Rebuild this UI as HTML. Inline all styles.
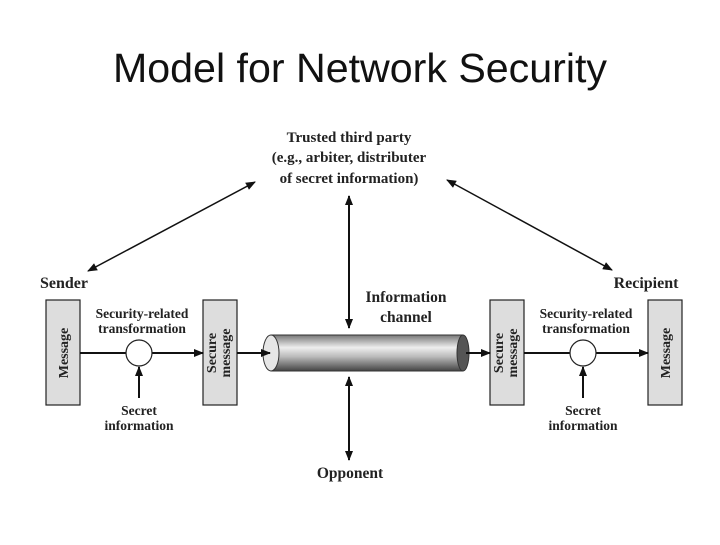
<!DOCTYPE html>
<html><head><style>
body{margin:0;width:720px;height:540px;background:#fff;overflow:hidden}
</style></head><body>
<svg width="720" height="540" xmlns="http://www.w3.org/2000/svg">
<defs>
<linearGradient id="cy" x1="0" y1="0" x2="0" y2="1">
<stop offset="0" stop-color="#777"/><stop offset="0.35" stop-color="#eee"/><stop offset="0.6" stop-color="#bbb"/><stop offset="1" stop-color="#444"/>
</linearGradient>
<marker id="a" markerWidth="10" markerHeight="8" refX="9" refY="4" orient="auto" markerUnits="userSpaceOnUse"><path d="M0,0 L10,4 L0,8 z" fill="#111"/></marker>
<marker id="b" markerWidth="10" markerHeight="8" refX="1" refY="4" orient="auto" markerUnits="userSpaceOnUse"><path d="M10,0 L0,4 L10,8 z" fill="#111"/></marker>
</defs>
<text x="360" y="82" text-anchor="middle" font-family="Liberation Sans, sans-serif" font-size="41" textLength="494" lengthAdjust="spacingAndGlyphs" fill="#111">Model for Network Security</text>
<g font-family="Liberation Serif, serif" font-weight="bold" fill="#222" text-anchor="middle">
<text x="349" y="142" font-size="15">Trusted third party</text>
<text x="349" y="162" font-size="15">(e.g., arbiter, distributer</text>
<text x="349" y="183" font-size="15">of secret information)</text>
<text x="64" y="288" font-size="16">Sender</text>
<text x="646" y="288" font-size="16">Recipient</text>
<text x="406" y="302" font-size="15.5">Information</text>
<text x="406" y="322" font-size="15.5">channel</text>
<text x="350" y="478" font-size="15.5">Opponent</text>
<text x="142" y="318" font-size="13.5">Security-related</text>
<text x="142" y="333" font-size="13.5">transformation</text>
<text x="139" y="415" font-size="13.5">Secret</text>
<text x="139" y="430" font-size="13.5">information</text>
<text x="586" y="318" font-size="13.5">Security-related</text>
<text x="586" y="333" font-size="13.5">transformation</text>
<text x="583" y="415" font-size="13.5">Secret</text>
<text x="583" y="430" font-size="13.5">information</text>
</g>
<g fill="#ddd" stroke="#222" stroke-width="1.2">
<rect x="46" y="300" width="34" height="105"/>
<rect x="203" y="300" width="34" height="105"/>
<rect x="490" y="300" width="34" height="105"/>
<rect x="648" y="300" width="34" height="105"/>
</g>
<g font-family="Liberation Serif, serif" font-weight="bold" font-size="14" fill="#222" text-anchor="middle">
<text transform="translate(68,353) rotate(-90)">Message</text>
<text transform="translate(216,353) rotate(-90)">Secure</text>
<text transform="translate(230,353) rotate(-90)">message</text>
<text transform="translate(503,353) rotate(-90)">Secure</text>
<text transform="translate(517,353) rotate(-90)">message</text>
<text transform="translate(670,353) rotate(-90)">Message</text>
</g>
<rect x="271" y="335" width="192" height="36" fill="url(#cy)" stroke="#333"/>
<ellipse cx="463" cy="353" rx="6" ry="18" fill="#555" stroke="#333"/>
<ellipse cx="271" cy="353" rx="8" ry="18" fill="#e6e6e6" stroke="#333"/>
<g stroke="#111" stroke-width="2" fill="none">
<line x1="80" y1="353" x2="126" y2="353"/>
<line x1="152" y1="353" x2="203" y2="353" marker-end="url(#a)"/>
<line x1="237" y1="353" x2="270" y2="353" marker-end="url(#a)"/>
<line x1="466" y1="353" x2="490" y2="353" marker-end="url(#a)"/>
<line x1="524" y1="353" x2="570" y2="353"/>
<line x1="596" y1="353" x2="648" y2="353" marker-end="url(#a)"/>
<line x1="139" y1="398" x2="139" y2="367" marker-end="url(#a)"/>
<line x1="583" y1="398" x2="583" y2="367" marker-end="url(#a)"/>
<line x1="349" y1="196" x2="349" y2="328" marker-start="url(#b)" marker-end="url(#a)"/>
<line x1="349" y1="377" x2="349" y2="460" marker-start="url(#b)" marker-end="url(#a)"/>
<line x1="88" y1="271" x2="255" y2="182" stroke-width="1.5" marker-start="url(#b)" marker-end="url(#a)"/>
<line x1="447" y1="180" x2="612" y2="270" stroke-width="1.5" marker-start="url(#b)" marker-end="url(#a)"/>
</g>
<circle cx="139" cy="353" r="13" fill="#fff" stroke="#222" stroke-width="1.2"/>
<circle cx="583" cy="353" r="13" fill="#fff" stroke="#222" stroke-width="1.2"/>
</svg>
</body></html>
